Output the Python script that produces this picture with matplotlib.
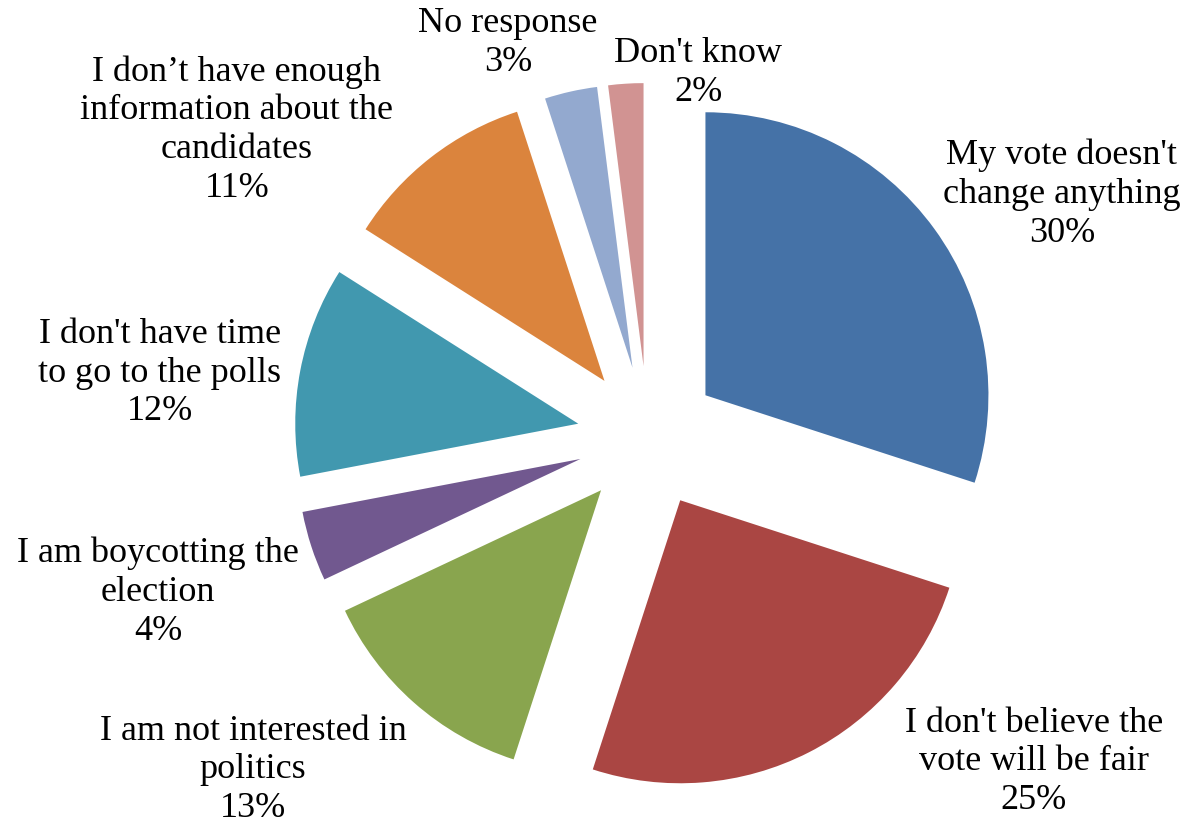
"""
Exploded pie chart: reasons for not voting
"""

import matplotlib.pyplot as plt

# Data
reasons = [
    "My vote doesn't\nchange anything",
    "I don't believe the\nvote will be fair",
    "I am not interested in\npolitics",
    "I am boycotting the\nelection",
    "I don't have time\nto go to the polls",
    "I don\u2019t have enough\ninformation about the\ncandidates",
    "No response",
    "Don't know",
]
shares = [30, 25, 13, 4, 12, 11, 3, 2]

colors = ['#4572A7', '#AA4643', '#89A54E', '#71588F',
          '#4198AF', '#DB843D', '#93A9CF', '#D19392']

# label block centres in pixel space (x, y from top)
label_pos = [(1062, 194), (1034, 762), (253, 770), (158, 592),
             (160, 373), (237, 130), (508, 43), (698, 73)]

W, H = 1185, 828
fig = plt.figure(figsize=(W / 100, H / 100), dpi=100)
ax = fig.add_axes([0, 0, 1, 1])

# pie in pixel units so the layout matches the original
ax.pie(shares, colors=colors, startangle=90, counterclock=False,
       center=(648, H - 438), radius=283, explode=[71] * len(shares),
       wedgeprops=dict(linewidth=0), frame=True)

for name, val, (x, y) in zip(reasons, shares, label_pos):
    ax.text(x, H - y, f'{name}\n{val}%', ha='center', va='center',
            fontsize=26, family='Liberation Serif', linespacing=1.23,
            color='black')

ax.set_xlim(0, W)
ax.set_ylim(0, H)
ax.set_aspect('equal')
ax.axis('off')

plt.savefig('out.png', dpi=100)
plt.close()
